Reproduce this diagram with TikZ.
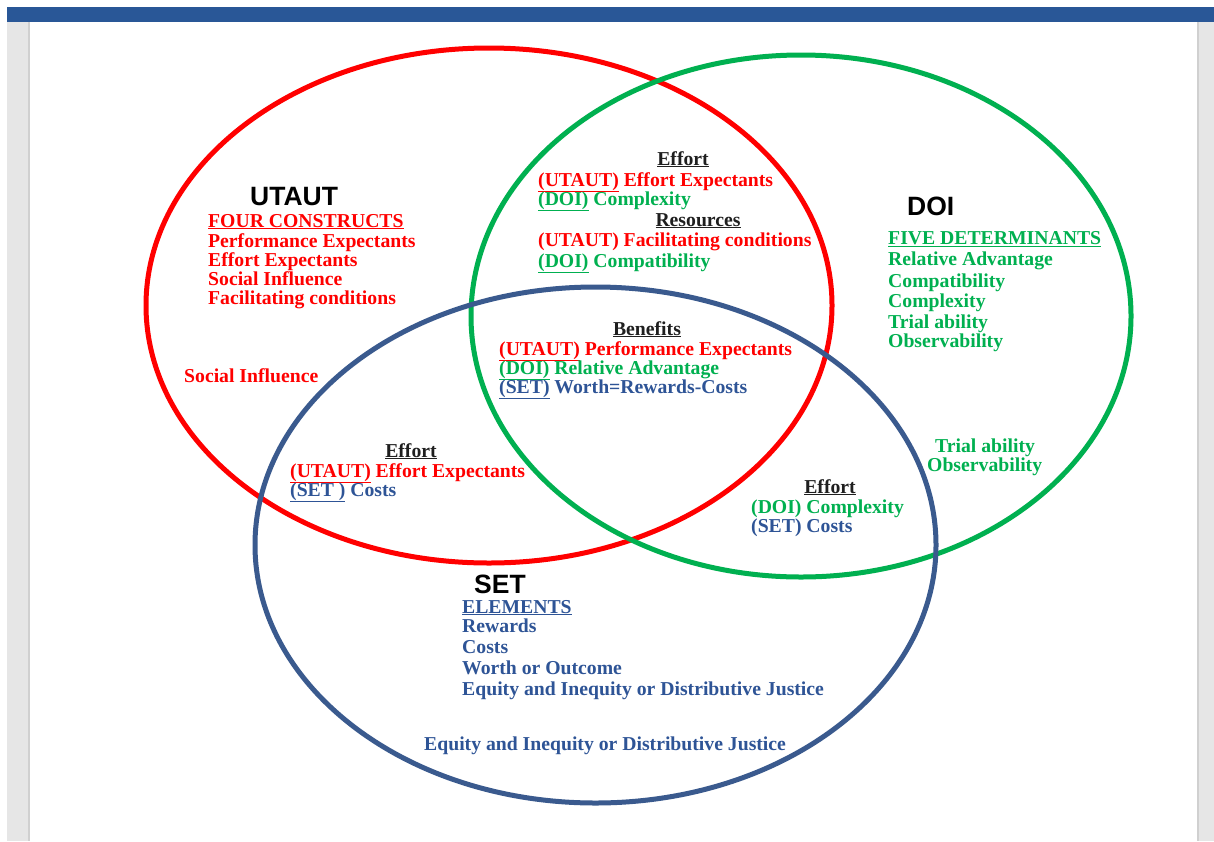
\documentclass[tikz,border=0pt]{standalone}
\usepackage{fontspec}
\usetikzlibrary{shapes.geometric}
\newfontfamily\serifbold{Liberation Serif}[BoldFont={* Bold}]
\newfontfamily\sansbold{Liberation Sans}[BoldFont={* Bold}]
\definecolor{utred}{RGB}{255,0,0}
\definecolor{doigreen}{RGB}{0,176,80}
\definecolor{settext}{RGB}{46,84,150}
\definecolor{setline}{RGB}{58,90,142}
\definecolor{barblue}{RGB}{41,87,151}
\definecolor{margin}{RGB}{230,230,230}
\definecolor{marginedge}{RGB}{208,208,208}
\tikzset{
  set/.style={draw, ellipse, line width=5pt, inner sep=0pt, outer sep=0pt},
  item/.style={anchor=base west, inner sep=0pt, font=\serifbold\bfseries\fontsize{19.7}{20}\selectfont},
  head/.style={anchor=base, inner sep=0pt, font=\serifbold\bfseries\fontsize{19.7}{20}\selectfont, text=black!88},
  title/.style={anchor=base west, inner sep=0pt, font=\sansbold\bfseries\fontsize{26.5}{28}\selectfont, text=black},
  ut/.style={item, text=utred},
  doi/.style={item, text=doigreen},
  st/.style={item, text=settext},
}
\newcommand{\ul}[1]{\underline{#1}}
\newcommand{\tagut}{\textcolor{utred}{\ul{(UTAUT)}}}
\newcommand{\tagdoi}{\textcolor{doigreen}{\ul{(DOI)}}}
\newcommand{\tagset}{\textcolor{settext}{\ul{(SET)}}}
\begin{document}
\begin{tikzpicture}[x=1pt, y=-1pt]
\useasboundingbox (0,0) rectangle (1214,841);
% page frame
\fill[white] (0,0) rectangle (1214,841);
\fill[barblue] (7,7) rectangle (1214,22);
\fill[margin] (7,22) rectangle (28,841);
\fill[marginedge] (27.5,22) rectangle (29.5,841);
\fill[margin] (1198,22) rectangle (1214,841);
\fill[marginedge] (1196.5,22) rectangle (1198.5,841);

% the three models
\node[set, draw=utred, minimum width=686pt, minimum height=515pt] (utaut) at (489,305.5) {};
\node[set, draw=doigreen, minimum width=660pt, minimum height=522pt] (doi) at (801,316) {};
\node[set, draw=setline, minimum width=681pt, minimum height=516pt] (setm) at (595.5,545) {};

% UTAUT
\node[title] (utautT) at (250,205) {UTAUT};
\node[ut] (u0) at (208,227) {\ul{FOUR CONSTRUCTS}};
\node[ut] (u1) at (208,247) {Performance Expectants};
\node[ut] (u2) at (208,266) {Effort Expectants};
\node[ut] (u3) at (208,285) {Social Influence};
\node[ut] (u4) at (208,304) {Facilitating conditions};
\node[ut] (u5) at (184,382) {Social Influence};

% UTAUT and DOI
\node[head] (h1) at (683,165) {\ul{Effort}};
\node[ut] (ud1) at (538,186) {\tagut{} Effort Expectants};
\node[doi] (ud2) at (538,205) {\tagdoi{} Complexity};
\node[head] (h2) at (698,226) {\ul{Resources}};
\node[ut] (ud3) at (538,246) {(UTAUT) Facilitating conditions};
\node[doi] (ud4) at (538,267) {\tagdoi{} Compatibility};

% all three
\node[head] (h3) at (647,335) {\ul{Benefits}};
\node[ut] (a1) at (499,355) {\tagut{} Performance Expectants};
\node[doi] (a2) at (499,374) {\tagdoi{} Relative Advantage};
\node[st] (a3) at (499,393) {\tagset{} Worth=Rewards-Costs};

% DOI
\node[title] (doiT) at (907,215) {DOI};
\node[doi] (d0) at (888,244) {\ul{FIVE DETERMINANTS}};
\node[doi] (d1) at (888,265) {Relative Advantage};
\node[doi] (d2) at (888,287) {Compatibility};
\node[doi] (d3) at (888,307) {Complexity};
\node[doi] (d4) at (888,328) {Trial ability};
\node[doi] (d5) at (888,347) {Observability};
\node[doi] (d6) at (935,452) {Trial ability};
\node[doi] (d7) at (927,471) {Observability};

% UTAUT and SET
\node[head] (h4) at (411,457) {\ul{Effort}};
\node[ut] (us1) at (290,477) {\tagut{} Effort Expectants};
\node[st] (us2) at (290,496) {\ul{(SET )} Costs};

% DOI and SET
\node[head] (h5) at (830,493) {\ul{Effort}};
\node[doi] (ds1) at (751,513) {(DOI) Complexity};
\node[st] (ds2) at (751,532) {(SET) Costs};

% SET
\node[title] (setT) at (474,593) {SET};
\node[st] (s0) at (462,613) {\ul{ELEMENTS}};
\node[st] (s1) at (462,632) {Rewards};
\node[st] (s2) at (462,653) {Costs};
\node[st] (s3) at (462,674) {Worth or Outcome};
\node[st] (s4) at (462,695) {Equity and Inequity or Distributive Justice};
\node[st] (s5) at (424,750) {Equity and Inequity or Distributive Justice};
\end{tikzpicture}
\end{document}
